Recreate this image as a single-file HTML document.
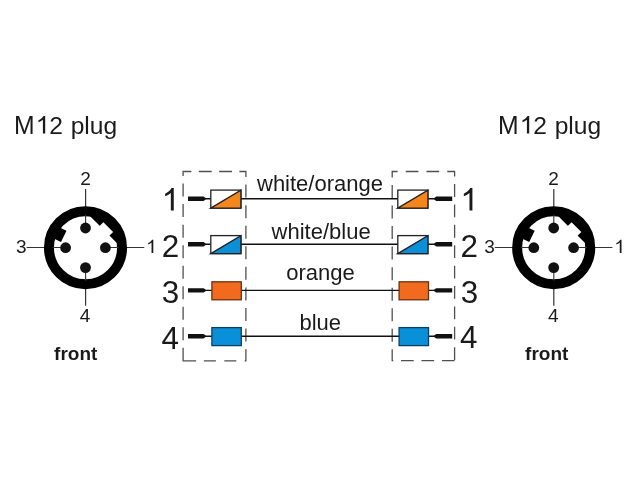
<!DOCTYPE html>
<html><head><meta charset="utf-8">
<style>
html,body{margin:0;padding:0;background:#fff;width:640px;height:480px;overflow:hidden}
svg{display:block;will-change:transform}
text{font-family:"Liberation Sans",sans-serif;fill:#1a1a1a}
</style></head><body>
<svg width="640" height="480" viewBox="0 0 640 480">
<defs>
<g id="conn">
  <path d="M-58.9,-0.2H58.7M0.1,-58.8V58.1" stroke="#333" stroke-width="1.2"/>
  <circle cx="0" cy="0" r="36.55" fill="#fff" stroke="#000" stroke-width="10"/>
  <path d="M-33,-0.2H-22M22,-0.2H33M0.1,-33V-22M0.1,22V33" stroke="#333" stroke-width="1.1"/>
  <circle cx="0" cy="-19.7" r="5.4" fill="#111"/>
  <circle cx="-19.9" cy="0" r="5.4" fill="#111"/>
  <circle cx="19.9" cy="0" r="5.4" fill="#111"/>
  <circle cx="0" cy="19.9" r="5.4" fill="#111"/>
  <g transform="rotate(205.9)"><rect x="24.5" y="-5.6" width="11.5" height="12.5" fill="#000"/></g>
  <g transform="rotate(-45)">
    <path d="M25.45,-22.4 A34,34 0 0 1 25.45,22.4 Z" fill="#000"/>
    <rect x="21" y="-5.4" width="9.65" height="13.8" fill="#fff"/>
  </g>
</g>
</defs>
<rect width="640" height="480" fill="#fff"/>
<text transform="translate(13.9,133.5) scale(0.99,1)" font-size="25">M</text><path transform="translate(36.02,133.5) scale(0.02460,-0.02460)" d="M373,0 L280,0 L280,562 C225,515 160,480 100,455 L100,540 C185,580 265,640 305,716 L373,716 Z" fill="#1a1a1a"/><text transform="translate(49.2,133.5) scale(1.0,1)" font-size="24.6">2</text><text x="70.7" y="133.5" font-size="24.6">plug</text>
<text transform="translate(497.9,133.5) scale(0.99,1)" font-size="25">M</text><path transform="translate(520.02,133.5) scale(0.02460,-0.02460)" d="M373,0 L280,0 L280,562 C225,515 160,480 100,455 L100,540 C185,580 265,640 305,716 L373,716 Z" fill="#1a1a1a"/><text transform="translate(533.2,133.5) scale(1.0,1)" font-size="24.6">2</text><text x="554.7" y="133.5" font-size="24.6">plug</text>
<use href="#conn" x="85.5" y="247.7"/>
<use href="#conn" x="553.7" y="247.7"/>
<g font-size="19"><text x="80.13" y="185.0">2</text><text x="15.93" y="252.8">3</text><text x="79.84" y="321.8">4</text><text x="548.3299999999999" y="185.0">2</text><text x="484.13" y="252.8">3</text><text x="548.04" y="321.8">4</text></g>
<path transform="translate(146.29,253.1) scale(0.01880,-0.01880)" d="M373,0 L280,0 L280,562 C225,515 160,480 100,455 L100,540 C185,580 265,640 305,716 L373,716 Z" fill="#1a1a1a"/><path transform="translate(614.49,253.1) scale(0.01880,-0.01880)" d="M373,0 L280,0 L280,562 C225,515 160,480 100,455 L100,540 C185,580 265,640 305,716 L373,716 Z" fill="#1a1a1a"/>
<g font-size="19" font-weight="bold"><text x="54.1" y="360.1">front</text><text x="525.1" y="360.1">front</text></g>
<g font-size="22">
<text x="257.0" y="190.8">white/orange</text>
<text x="271.55" y="238.6">white/blue</text>
<text x="286.2" y="280">orange</text>
<text x="299.5" y="330">blue</text>
</g>
<path d="M182.50,171.5H191.40M198.80,171.5H211.70M219.10,171.5H232.00M239.40,171.5H246.50M183.50,360.8H195.50M203.90,360.8H215.90M224.30,360.8H236.30M244.70,360.8H246.50M182.5,360.8H196.1M183.1,171.50V176.10M183.1,183.61V196.61M183.1,204.12V217.12M183.1,224.63V237.63M183.1,245.14V258.14M183.1,265.65V278.65M183.1,286.16V299.16M183.1,306.67V319.67M183.1,327.18V340.18M183.1,347.69V360.69M245.9,171.50V177.00M245.9,184.57V197.57M245.9,205.15V218.15M245.9,225.72V238.72M245.9,246.30V259.30M245.9,266.87V279.87M245.9,287.45V300.45M245.9,308.02V321.02M245.9,328.60V341.60M245.9,349.17V360.80M391.60,171.5H397.60M405.70,171.5H418.40M426.50,171.5H439.20M447.30,171.5H455.20M391.60,360.7H393.25M401.00,360.7H413.70M421.45,360.7H434.15M441.90,360.7H454.60M392.2,171.50V177.50M392.2,185.03V198.03M392.2,205.56V218.56M392.2,226.09V239.09M392.2,246.62V259.62M392.2,267.15V280.15M392.2,287.68V300.68M392.2,308.21V321.21M392.2,328.74V341.74M392.2,349.27V360.70M454.6,171.50V176.50M454.6,184.09V196.89M454.6,204.48V217.28M454.6,224.87V237.67M454.6,245.26V258.06M454.6,265.65V278.45M454.6,286.04V298.84M454.6,306.43V319.23M454.6,326.82V339.62M454.6,347.21V360.01" fill="none" stroke="#505050" stroke-width="1.3"/>
<g stroke="#111" stroke-width="1.4"><line x1="204" y1="198.7" x2="436" y2="198.7"/><line x1="204" y1="244.2" x2="436" y2="244.2"/><line x1="204" y1="290.4" x2="436" y2="290.4"/><line x1="204" y1="336.2" x2="436" y2="336.2"/></g>
<g fill="#111"><path d="M188,196.5H203.6L205.6,197.89999999999998V199.5L203.6,200.89999999999998H188Z"/><path d="M452.2,196.5H436.2L434.2,197.89999999999998V199.5L436.2,200.89999999999998H452.2Z"/><path d="M188,242.0H203.6L205.6,243.39999999999998V245.0L203.6,246.39999999999998H188Z"/><path d="M452.2,242.0H436.2L434.2,243.39999999999998V245.0L436.2,246.39999999999998H452.2Z"/><path d="M188,288.2H203.6L205.6,289.59999999999997V291.2L203.6,292.59999999999997H188Z"/><path d="M452.2,288.2H436.2L434.2,289.59999999999997V291.2L436.2,292.59999999999997H452.2Z"/><path d="M188,334.0H203.6L205.6,335.4V337.0L203.6,338.4H188Z"/><path d="M452.2,334.0H436.2L434.2,335.4V337.0L436.2,338.4H452.2Z"/></g>
<g stroke="#222" stroke-width="1.3"><rect x="210.8" y="190.1" width="30.1" height="18" fill="#fff"/><path d="M210.8,208.1 L240.9,190.1 L240.9,208.1 Z" fill="#F5861C"/><rect x="210.8" y="235.6" width="30.1" height="18" fill="#fff"/><path d="M210.8,253.6 L240.9,235.6 L240.9,253.6 Z" fill="#0A90D8"/><rect x="211.9" y="281.79999999999995" width="29.4" height="18" fill="#F26A1E" stroke="#6a3012"/><rect x="211.9" y="327.59999999999997" width="29.4" height="18" fill="#0A90D8" stroke="#0c3f66"/><rect x="397.8" y="190.1" width="30.1" height="18" fill="#fff"/><path d="M397.8,208.1 L427.90000000000003,190.1 L427.90000000000003,208.1 Z" fill="#F5861C"/><rect x="397.8" y="235.6" width="30.1" height="18" fill="#fff"/><path d="M397.8,253.6 L427.90000000000003,235.6 L427.90000000000003,253.6 Z" fill="#0A90D8"/><rect x="399.1" y="281.79999999999995" width="29.4" height="18" fill="#F26A1E" stroke="#6a3012"/><rect x="399.1" y="327.59999999999997" width="29.4" height="18" fill="#0A90D8" stroke="#0c3f66"/></g>
<path transform="translate(162.04,210.6) scale(0.03140,-0.03140)" d="M373,0 L280,0 L280,562 C225,515 160,480 100,455 L100,540 C185,580 265,640 305,716 L373,716 Z" fill="#1a1a1a"/><path transform="translate(460.69,210.6) scale(0.03140,-0.03140)" d="M373,0 L280,0 L280,562 C225,515 160,480 100,455 L100,540 C185,580 265,640 305,716 L373,716 Z" fill="#1a1a1a"/>
<g font-size="31.4"><text x="161.85" y="256.6">2</text><text x="161.8" y="303.25">3</text><text x="161.5" y="348.9">4</text><text x="460.5" y="256.6">2</text><text x="460.65" y="302.6">3</text><text x="460.1" y="348.3">4</text></g>
</svg>
</body></html>
